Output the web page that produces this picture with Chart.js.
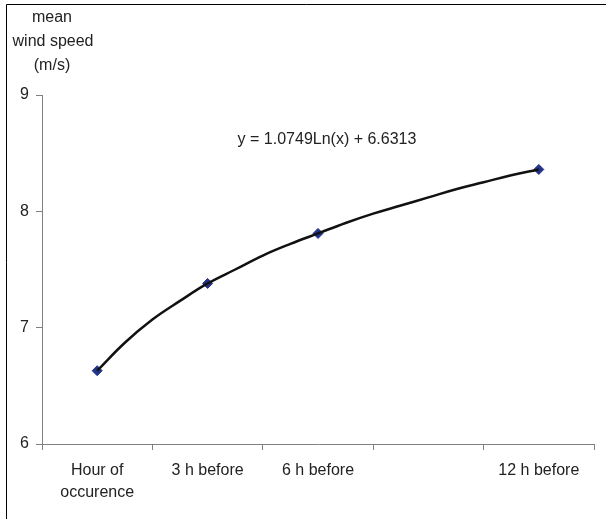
<!DOCTYPE html>
<html>
<head>
<meta charset="utf-8">
<script src="https://cdn.jsdelivr.net/npm/chart.js@4/dist/chart.umd.min.js"></script>
<style>
  html, body { margin: 0; padding: 0; background: #fff; }
  #wrap { width: 606px; height: 519px; position: relative; }
</style>
</head>
<body>
<div id="wrap"><canvas id="c" width="606" height="519"></canvas></div>
<script>
const categories = [['Hour of', 'occurence'], '3 h before', '6 h before', '', '12 h before'];
const windSpeed = [6.63, 7.38, 7.81, null, 8.36];

// trend line, x = category position (1 = hour of occurence)
const trendX = [1, 1.25, 1.5, 1.75, 2, 2.25, 2.5, 2.75, 3, 3.25, 3.5, 3.75, 4, 4.25, 4.5, 4.75, 5];
const trendY = [6.63, 6.87, 7.07, 7.23, 7.38, 7.50, 7.62, 7.72, 7.81, 7.90, 7.98, 8.05, 8.12, 8.19, 8.25, 8.31, 8.36];

const yTitle = ['mean', 'wind speed', '(m/s)'];
const equation = 'y = 1.0749Ln(x) + 6.6313';

const font = "'Liberation Sans', Arial, sans-serif";
const axisGray = '#808080';
const textColor = '#222';

const decorations = {
    id: 'decorations',
    afterDraw(chart) {
        const ctx = chart.ctx;
        ctx.save();
        // frame of the chart area
        ctx.strokeStyle = '#000';
        ctx.lineWidth = 1;
        ctx.beginPath();
        ctx.moveTo(6.5, 530);
        ctx.lineTo(6.5, 4.5);
        ctx.lineTo(620, 4.5);
        ctx.stroke();

        ctx.fillStyle = textColor;
        ctx.font = '16px ' + font;
        ctx.textAlign = 'center';
        ctx.textBaseline = 'middle';
        ctx.fillText(yTitle[0], 52, 18);
        ctx.fillText(yTitle[1], 53, 42);
        ctx.fillText(yTitle[2], 52, 66);

        ctx.fillText(equation, 327, 140);
        ctx.restore();
    }
};

new Chart(document.getElementById('c'), {
    type: 'line',
    data: {
        labels: categories,
        datasets: [
            {
                label: 'trend',
                data: trendX.map((x, i) => ({ x: x, y: trendY[i] })),
                xAxisID: 'xt',
                borderColor: '#111',
                borderWidth: 2.5,
                tension: 0.4,
                pointRadius: 0,
                fill: false
            },
            {
                label: 'mean wind speed',
                data: windSpeed,
                xAxisID: 'x',
                showLine: false,
                pointStyle: 'rectRot',
                pointRadius: 5,
                pointBackgroundColor: '#24338a',
                pointBorderColor: '#24338a',
                pointBorderWidth: 1
            }
        ]
    },
    options: {
        responsive: false,
        animation: false,
        layout: { padding: { top: 95, right: 12, left: 0, bottom: 0 } },
        plugins: {
            legend: { display: false },
            tooltip: { enabled: false }
        },
        scales: {
            x: {
                type: 'category',
                offset: true,
                grid: {
                    offset: true,
                    drawOnChartArea: false,
                    drawTicks: true,
                    tickLength: 6,
                    color: axisGray
                },
                border: { color: axisGray, width: 1 },
                ticks: {
                    autoSkip: false,
                    maxRotation: 0,
                    padding: 10,
                    color: textColor,
                    font: { family: font, size: 16, lineHeight: 1.375 }
                },
                afterFit(scale) { scale.height = 75; }
            },
            xt: {
                type: 'linear',
                display: false,
                min: 0.5,
                max: 5.5
            },
            y: {
                min: 6,
                max: 9,
                ticks: {
                    stepSize: 1,
                    padding: 7,
                    color: textColor,
                    font: { family: font, size: 16 }
                },
                grid: {
                    drawOnChartArea: false,
                    tickLength: 6,
                    color: axisGray
                },
                border: { color: axisGray, width: 1 },
                afterFit(scale) { scale.width = 42; }
            }
        }
    },
    plugins: [decorations]
});
</script>
</body>
</html>
